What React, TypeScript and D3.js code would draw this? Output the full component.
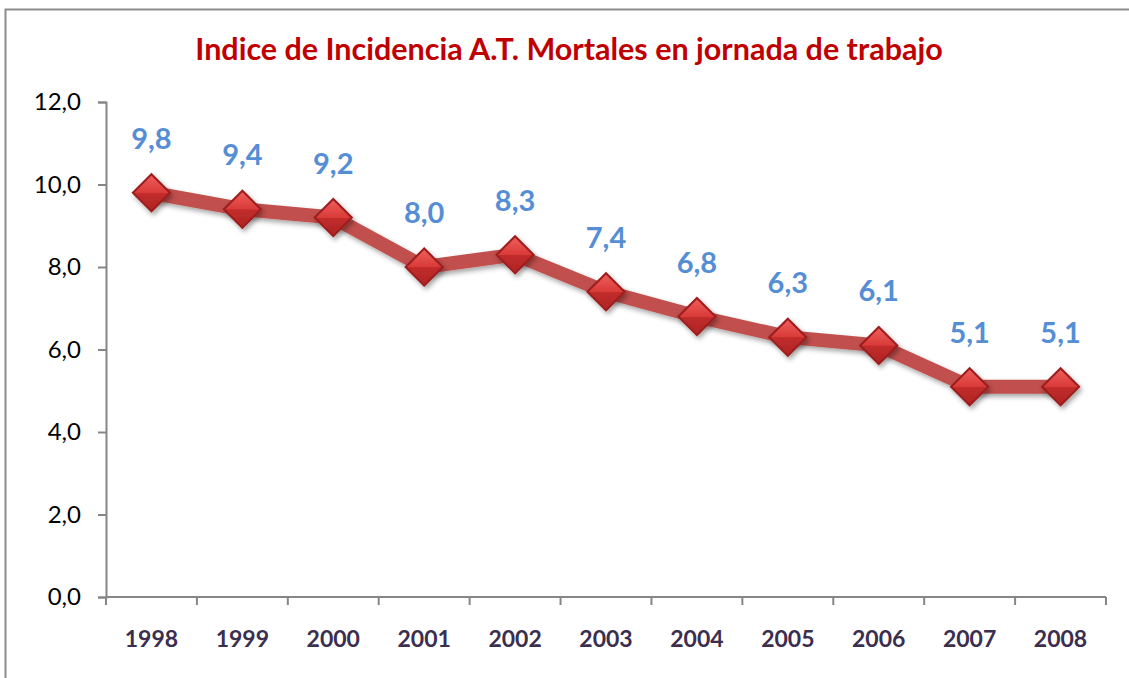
import React, { useEffect, useRef } from 'react';
import * as d3 from 'd3';

const years = ['1998', '1999', '2000', '2001', '2002', '2003', '2004', '2005', '2006', '2007', '2008'];
const values = [9.8, 9.4, 9.2, 8.0, 8.3, 7.4, 6.8, 6.3, 6.1, 5.1, 5.1];
const yTicks = [0, 2, 4, 6, 8, 10, 12];
const title = 'Indice de Incidencia A.T. Mortales en jornada de trabajo';

const fmt = (v: number) => v.toFixed(1).replace('.', ',');

export default function App() {
  const svgRef = useRef<SVGSVGElement>(null);

  useEffect(() => {
    const width = 1129;
    const height = 678;
    const margin = { top: 102, right: 23, bottom: 81, left: 106 };
    const boundedWidth = width - margin.left - margin.right;
    const boundedHeight = height - margin.top - margin.bottom;

    const svg = d3.select(svgRef.current).attr('width', width).attr('height', height);
    svg.selectAll('*').remove();

    // defs: gradient + shadow
    const defs = svg.append('defs');
    const grad = defs
      .append('linearGradient')
      .attr('id', 'diamondGrad')
      .attr('x1', 0)
      .attr('y1', 0)
      .attr('x2', 0)
      .attr('y2', 1);
    grad.append('stop').attr('offset', '0%').attr('stop-color', '#ee5d5a');
    grad.append('stop').attr('offset', '50%').attr('stop-color', '#d93a38');
    grad.append('stop').attr('offset', '51%').attr('stop-color', '#c22d2c');
    grad.append('stop').attr('offset', '100%').attr('stop-color', '#b02424');

    const shadow = defs.append('filter').attr('id', 'shadow').attr('x', '-50%').attr('y', '-50%').attr('width', '200%').attr('height', '200%');
    shadow
      .append('feDropShadow')
      .attr('dx', 2)
      .attr('dy', 3)
      .attr('stdDeviation', 2.5)
      .attr('flood-color', '#000')
      .attr('flood-opacity', 0.35);

    // outer frame
    svg
      .append('path')
      .attr('d', `M5.5,${height} V9.5 H${width}`)
      .attr('fill', 'none')
      .attr('stroke', '#8c8c8c')
      .attr('stroke-width', 2);

    svg
      .append('text')
      .attr('x', 569)
      .attr('y', 60)
      .attr('text-anchor', 'middle')
      .attr('fill', '#c00000')
      .style('font-family', 'Lato, "Open Sans", sans-serif')
      .style('font-weight', 'bold')
      .style('font-size', '30.5px')
      .text(title);

    const bounds = svg.append('g').attr('transform', `translate(${margin.left}, ${margin.top})`);

    const xScale = d3.scaleBand().domain(years).range([0, boundedWidth]);
    const yScale = d3.scaleLinear().domain([0, 12]).range([boundedHeight, 0]);

    // y axis
    const yAxis = bounds
      .append('g')
      .call(d3.axisLeft(yScale).tickValues(yTicks).tickSize(8).tickPadding(17).tickFormat((d) => fmt(d as number)));
    yAxis.select('.domain').attr('stroke', '#868686').attr('stroke-width', 2);
    yAxis.selectAll('.tick line').attr('stroke', '#868686').attr('stroke-width', 2);
    yAxis
      .selectAll('.tick text')
      .attr('fill', '#000')
      .style('font-family', 'Lato, "Open Sans", sans-serif')
      .style('font-size', '24px');

    // x axis with ticks at band edges
    const xAxis = bounds.append('g').attr('transform', `translate(0, ${boundedHeight})`);
    xAxis
      .append('line')
      .attr('x1', 0)
      .attr('x2', boundedWidth)
      .attr('stroke', '#868686')
      .attr('stroke-width', 2);
    const edges = years.map((y) => xScale(y) as number).concat([boundedWidth]);
    xAxis
      .selectAll('line.tk')
      .data(edges)
      .enter()
      .append('line')
      .attr('class', 'tk')
      .attr('x1', (d) => d)
      .attr('x2', (d) => d)
      .attr('y1', 0)
      .attr('y2', 8)
      .attr('stroke', '#868686')
      .attr('stroke-width', 2);
    xAxis
      .selectAll('text')
      .data(years)
      .enter()
      .append('text')
      .attr('x', (d) => (xScale(d) as number) + xScale.bandwidth() / 2)
      .attr('y', 50)
      .attr('text-anchor', 'middle')
      .attr('fill', '#3b2e4f')
      .style('font-family', 'Lato, "Open Sans", sans-serif')
      .style('font-weight', 'bold')
      .style('font-size', '23px')
      .text((d) => d);

    const cx = (i: number) => (xScale(years[i]) as number) + xScale.bandwidth() / 2;

    // line
    const line = d3
      .line<number>()
      .x((_, i) => cx(i))
      .y((d) => yScale(d));
    bounds
      .append('path')
      .datum(values)
      .attr('d', line)
      .attr('fill', 'none')
      .attr('stroke', '#c0504d')
      .attr('stroke-width', 14)
      .attr('stroke-linejoin', 'round')
      .attr('filter', 'url(#shadow)');

    // markers
    const r = 20;
    const markers = bounds
      .selectAll('g.marker')
      .data(values)
      .enter()
      .append('g')
      .attr('class', 'marker')
      .attr('transform', (d, i) => `translate(${cx(i)}, ${yScale(d)})`)
      .attr('filter', 'url(#shadow)');
    markers
      .append('path')
      .attr('d', `M0,${-r} L${r},0 L0,${r} L${-r},0 Z`)
      .attr('fill', '#9e1f1f');
    const ri = r - 3;
    markers
      .append('path')
      .attr('d', `M0,${-ri} L${ri},0 L0,${ri} L${-ri},0 Z`)
      .attr('fill', 'url(#diamondGrad)');

    // data labels
    bounds
      .selectAll('text.lbl')
      .data(values)
      .enter()
      .append('text')
      .attr('class', 'lbl')
      .attr('x', (_, i) => cx(i))
      .attr('y', (d) => yScale(d) - 44)
      .attr('text-anchor', 'middle')
      .attr('fill', '#558ed5')
      .style('font-family', 'Lato, "Open Sans", sans-serif')
      .style('font-weight', 'bold')
      .style('font-size', '29px')
      .text((d) => fmt(d));
  }, []);

  return (
    <div style={{ position: 'absolute', left: 0, top: 0 }}>
      <svg ref={svgRef} style={{ display: 'block', background: '#fff' }} />
    </div>
  );
}
